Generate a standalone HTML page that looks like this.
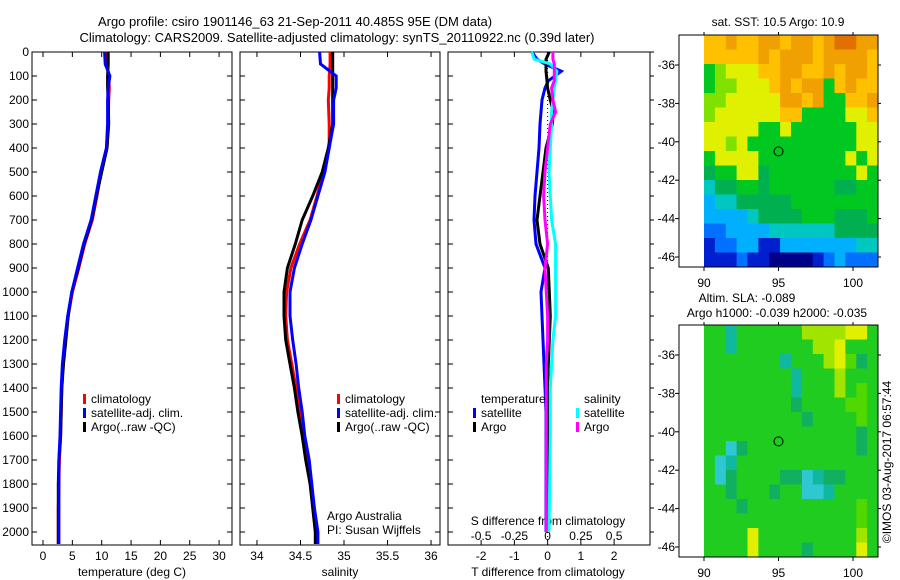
<!DOCTYPE html>
<html><head><meta charset="utf-8"><style>
body{margin:0;background:#fff}
svg{display:block;font-family:"Liberation Sans",sans-serif;font-size:12px}
</style></head><body>
<svg id="c" width="900" height="580" viewBox="0 0 900 580"></svg>
<script>
const NS='http://www.w3.org/2000/svg';
const svg=document.getElementById('c');
// ---- data ----
const tDepth=[0,50,100,150,200,300,400,500,600,700,800,900,1000,1100,1200,1300,1400,1500,1600,1700,1800,1900,2000,2050];
const tClim=[10.9,10.9,11.2,11.3,11.2,11.1,10.9,9.9,9.2,8.4,7.1,6.1,5.0,4.3,3.8,3.4,3.2,3.1,3.0,2.8,2.7,2.6,2.6,2.6];
const tSat=[10.5,10.6,11.4,11.1,11.0,11.0,10.8,9.8,9.0,8.2,6.9,5.9,4.9,4.2,3.7,3.3,3.1,3.0,2.9,2.7,2.7,2.7,2.7,2.7];
const tArgo=[11.1,11.1,11.0,11.0,11.1,11.2,10.9,10.0,9.1,8.3,7.0,6.0,4.9,4.3,3.9,3.5,3.2,3.1,3.0,2.7,2.6,2.6,2.6,2.6];
const sClim=[34.84,34.84,34.83,34.83,34.82,34.83,34.83,34.76,34.69,34.61,34.49,34.39,34.34,34.33,34.35,34.40,34.45,34.49,34.53,34.58,34.62,34.65,34.68,34.68];
const sSat=[34.72,34.73,34.91,34.91,34.88,34.88,34.83,34.78,34.70,34.62,34.52,34.43,34.38,34.38,34.41,34.45,34.48,34.52,34.55,34.60,34.63,34.66,34.70,34.70];
const sArgo=[34.87,34.87,34.87,34.87,34.87,34.87,34.82,34.75,34.64,34.52,34.44,34.35,34.31,34.31,34.33,34.38,34.43,34.47,34.52,34.56,34.61,34.64,34.67,34.67];
const dDepth=[0,30,50,80,120,150,200,250,300,400,500,600,700,800,900,1000,1100,1200,1300,1400,1500,1600,2000];
const dTSat=[-0.47,-0.32,-0.08,0.41,0.02,-0.08,-0.17,-0.20,-0.23,-0.26,-0.32,-0.38,-0.41,-0.35,-0.08,-0.20,-0.17,-0.14,-0.11,-0.08,-0.05,-0.05,-0.05];
const dTArgo=[0.05,-0.05,-0.05,-0.05,-0.02,0.0,0.08,0.17,0.14,-0.05,-0.14,-0.23,-0.32,-0.23,0.02,0.05,0.08,0.05,0.02,0.0,0.0,0.0,0.0];
const dSSat=[-0.12,-0.10,0.02,0.07,0.06,0.05,0.04,0.03,0.03,0.02,0.01,0.02,0.03,0.06,0.06,0.06,0.06,0.04,0.03,0.02,0.02,0.02,0.01];
const dSArgo=[0.04,0.04,0.05,0.05,0.05,0.03,0.04,0.06,0.02,0.0,-0.02,-0.03,-0.02,0.0,-0.02,-0.01,0.0,0.0,-0.01,-0.01,-0.01,-0.01,-0.01];
const depthTicks=[0,100,200,300,400,500,600,700,800,900,1000,1100,1200,1300,1400,1500,1600,1700,1800,1900,2000];
const tTicks=[0,5,10,15,20,25,30];
const sTicks=[34,34.5,35,35.5,36];
const sTickLabels=['34','34.5','35','35.5','36'];
const dTTicks=[-2,-1,0,1,2];
const dSTicks=[-0.5,-0.25,0,0.25,0.5];
const latTicks=[-36,-38,-40,-42,-44,-46];
const lonTicks=[90,95,100];
const sstGrid=["99a99aa9aa9abbaa","99999a9aaa9aaaa9","6788899aa99a9aa9","6778889a9aa69a99","7788888aa9a6699a","7888888996666889","8888866866666688","8878666666666688","6888866666666868","5668856666666686","4556656666665566","3445555566666666","3333455556665556","2233334444445555","1223311333333344","1112110000123222"];
const slaGrid=["3313333335555663","3313333333556333","3333333133356423","3333333313335333","3333333313335343","3333333323333443","3333333332333343","3333333333333323","3302333333333323","3013333333333333","3023333220122333","3323332330013333","3332333333333343","3333333333333343","3333633333333353","3333633332333363"];
const sstColors={'0':'#000088','1':'#0020d0','2':'#0070ff','3':'#00b0ff','4':'#00c8c0','5':'#00b050','6':'#00c820','7':'#80e000','8':'#e0f000','9':'#ffc000','a':'#f0a000','b':'#e07000'};
const slaColors={'0':'#30c8d0','1':'#10b8a0','2':'#10b060','3':'#20cc20','4':'#50d800','5':'#a0e400','6':'#e0f000'};
// ---- helpers ----
function el(tag,attrs,parent){const e=document.createElementNS(NS,tag);for(const k in attrs)e.setAttribute(k,attrs[k]);(parent||svg).appendChild(e);return e;}
function txt(s,x,y,anchor,parent,size){const t=el('text',{x:x,y:y,'text-anchor':anchor||'middle','font-size':size||12},parent);t.textContent=s;return t;}
const Y0=52,YS=0.24;
const yD=d=>Y0+d*YS;
const BOT=545;
function panel(name,x0,x1,dmin,dmax){
  const g=el('g',{});
  
  
  el('rect',{x:x0,y:Y0,width:x1-x0,height:BOT-Y0,fill:'none',stroke:'#000','stroke-width':1},g);
  return {g:g,x:v=>x0+(v-dmin)/(dmax-dmin)*(x1-x0)};
}
function line(p,xs,ds,color,name){
  const pts=xs.map((v,i)=>p.x(v).toFixed(1)+','+yD(ds[i]).toFixed(1)).join(' ');
  const l=el('polyline',{points:pts,fill:'none',stroke:color,'stroke-width':3,'stroke-linejoin':'miter'},p.g);
  
  
}
function depthTicksOn(p,x0,x1,labels,rightOut){
  depthTicks.forEach(d=>{
    const y=yD(d);
    el('line',{x1:x0,y1:y,x2:x0+5,y2:y,stroke:'#000'},p.g);
    if(rightOut) el('line',{x1:x1,y1:y,x2:x1+4,y2:y,stroke:'#000'},p.g);
    else el('line',{x1:x1,y1:y,x2:x1-5,y2:y,stroke:'#000'},p.g);
    if(labels){const t=txt(String(d),29,y+4,'end',p.g);}
  });
}
function xTicks(p,ticks,labels,y){
  ticks.forEach((v,i)=>{
    const x=p.x(v);
    el('line',{x1:x,y1:BOT,x2:x,y2:BOT-5,stroke:'#000'},p.g);
    el('line',{x1:x,y1:Y0,x2:x,y2:Y0+5,stroke:'#000'},p.g);
    if(labels){const t=txt(labels[i],x,y,'middle',p.g);}
  });
}
// titles
let t=txt('Argo profile: csiro 1901146_63 21-Sep-2011 40.485S 95E (DM data)',295,26,'middle',null,13);

t=txt('Climatology: CARS2009. Satellite-adjusted climatology: synTS_20110922.nc (0.39d later)',337,42,'middle',null,13);

// panel 1 temperature
const p1=panel('temperature-panel',32,232,-1.875,32.2);
depthTicksOn(p1,32,232,true,false);
xTicks(p1,tTicks,tTicks.map(String),560);
t=txt('temperature (deg C)',132,576,'middle',p1.g);
line(p1,tClim,tDepth,'#ff0000','temperature-climatology-line');
line(p1,tArgo,tDepth,'#000000','temperature-argo-line');
line(p1,tSat,tDepth,'#0000ff','temperature-satellite-line');
// panel 2 salinity
const p2=panel('salinity-panel',240,440,33.805,36.103);
depthTicksOn(p2,240,440,false,false);
xTicks(p2,sTicks,sTickLabels,560);
t=txt('salinity',340,576,'middle',p2.g);
line(p2,sClim,tDepth,'#ff0000','salinity-climatology-line');
line(p2,sArgo,tDepth,'#000000','salinity-argo-line');
line(p2,sSat,tDepth,'#0000ff','salinity-satellite-line');
t=txt('Argo Australia',327,520,'start',p2.g);
t=txt('PI: Susan Wijffels',327,534,'start',p2.g);
// legends p1,p2
function legend(g,xm,y,color,label,name){
  const lg=el('g',{},g);
  
  
  el('rect',{x:xm,y:y-9,width:3,height:10,fill:color},lg);
  txt(label,xm+8,y,'start',lg);
}
[[p1.g,83],[p2.g,337]].forEach(([g,xm])=>{
  legend(g,xm,403,'#ff0000','climatology','legend-climatology');
  legend(g,xm,417,'#0000ff','satellite-adj. clim.','legend-satellite');
  legend(g,xm,431,'#000000','Argo(..raw -QC)','legend-argo');
});
// panel 3 difference
const p3=panel('difference-panel',448,650,-2.9962,3.0789);
const sx=v=>p3.x(v*4);
depthTicksOn(p3,448,650,false,true);
xTicks(p3,dTTicks,dTTicks.map(String),560);
dSTicks.forEach(v=>{const tt=txt(String(v).replace('-0.','-0.'),sx(v),540,'middle',p3.g);});
t=txt('S difference from climatology',548,525,'middle',p3.g);
t=txt('T difference from climatology',548,576,'middle',p3.g);
el('line',{x1:p3.x(0),y1:Y0,x2:p3.x(0),y2:BOT,stroke:'#000','stroke-dasharray':'1,3'},p3.g);
line(p3,dTSat,dDepth,'#0000ff','temp-diff-satellite-line');
line(p3,dTArgo,dDepth,'#000000','temp-diff-argo-line');
line(p3,dSSat.map(v=>v*4),dDepth,'#00ffff','sal-diff-satellite-line');
line(p3,dSArgo.map(v=>v*4),dDepth,'#ff00ff','sal-diff-argo-line');
t=txt('temperature',481,403,'start',p3.g);
t=txt('salinity',584,403,'start',p3.g);
legend(p3.g,473,417,'#0000ff','satellite','legend-temp-satellite');
legend(p3.g,473,431,'#000000','Argo','legend-temp-argo');
legend(p3.g,576,417,'#00ffff','satellite','legend-sal-satellite');
legend(p3.g,576,431,'#ff00ff','Argo','legend-sal-argo');
// maps
function map(name,top,grid,colors,titles){
  const g=el('g',{});
  
  
  const bx0=679,bx1=878,by0=top,by1=top+232;
  const lonX=v=>704+(v-90)*14.9;
  const latY=v=>top+30+(-36-v)*19.2;
  const lon0=90,lon1=(bx1-704)/14.9+90;
  const latTop=-36+30/19.2, latBot=-36-(232-30)/19.2;
  const rows=grid.length, cols=grid[0].length;
  const dl=(lon1-lon0)/cols, dla=(latTop-latBot)/rows;
  grid.forEach((row,r)=>{[...row].forEach((c,k)=>{
    const x=lonX(lon0+k*dl), y=latY(latTop-r*dla);
    const cell=el('rect',{x:x.toFixed(1),y:y.toFixed(1),width:(lonX(lon0+(k+1)*dl)-x+0.5).toFixed(1),height:(latY(latTop-(r+1)*dla)-y+0.5).toFixed(1),fill:colors[c]},g);
    
    
  });});
  el('rect',{x:bx0,y:by0,width:bx1-bx0,height:by1-by0,fill:'none',stroke:'#000'},g);
  latTicks.forEach(v=>{const y=latY(v);el('line',{x1:bx0,y1:y,x2:bx0-4,y2:y,stroke:'#000'},g);el('line',{x1:bx1,y1:y,x2:bx1+3,y2:y,stroke:'#000'},g);
    const tt=txt(String(v),675,y+4,'end',g);});
  lonTicks.forEach(v=>{const x=lonX(v);el('line',{x1:x,y1:by1,x2:x,y2:by1+4,stroke:'#000'},g);el('line',{x1:x,y1:by0,x2:x,y2:by0-3,stroke:'#000'},g);
    const tt=txt(String(v),x,by1+20,'middle',g);});
  const m=el('circle',{cx:lonX(95),cy:latY(-40.5),r:4.5,fill:'none',stroke:'#000'},g);
  
  
  titles.forEach(([s,x,y])=>{const tt=txt(s,x,y,'middle',g);});
}
map('sst-map',35,sstGrid,sstColors,[['sat. SST: 10.5 Argo: 10.9',778,26]]);
map('sla-map',325,slaGrid,slaColors,[['Altim. SLA: -0.089',747,302],['Argo h1000: -0.039 h2000: -0.035',777,317]]);
t=txt('\u00A9IMOS 03-Aug-2017 06:57:44',0,0,'middle');
t.setAttribute('transform','translate(891,462) rotate(-90)');

</script>
</body></html>
